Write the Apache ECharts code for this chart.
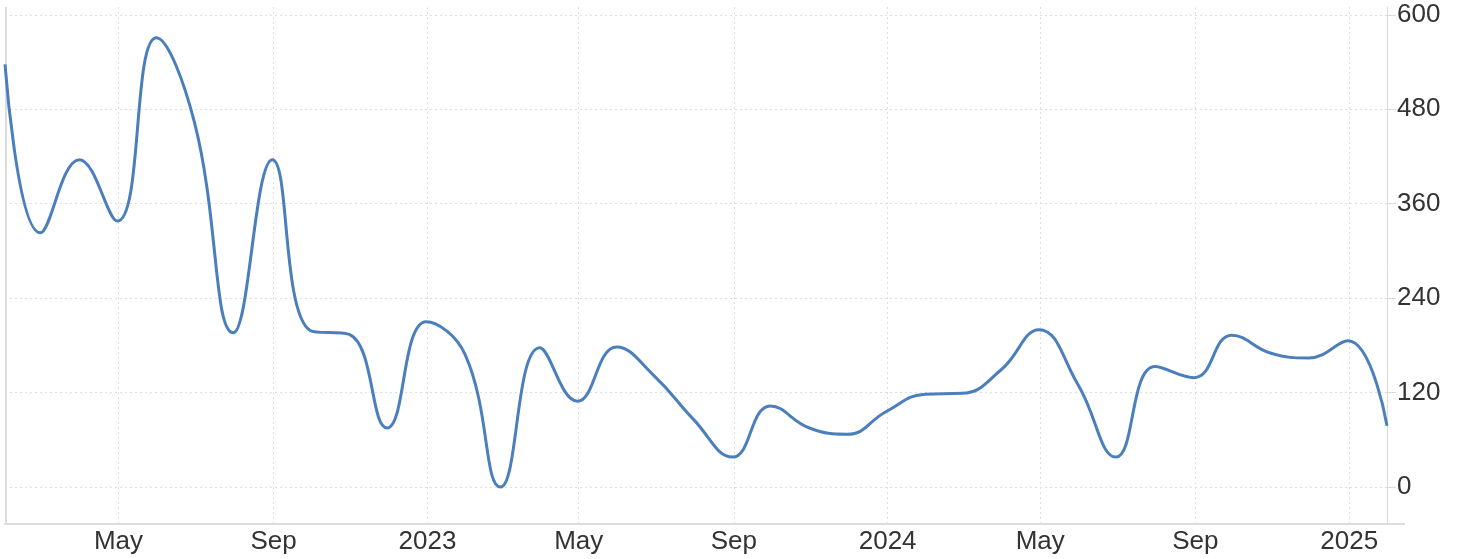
<!DOCTYPE html>
<html>
<head>
<meta charset="utf-8">
<script src="https://cdn.jsdelivr.net/npm/echarts@6/dist/echarts.min.js"></script>
<style>
  html, body { margin: 0; padding: 0; background: #fff; }
  #chart { width: 1461px; height: 559px; }
</style>
</head>
<body>
<div id="chart"></div>
<script>
// month-end observation dates
const dates = [
  '2022-01-31', '2022-02-28', '2022-03-31', '2022-04-30', '2022-05-31', '2022-06-30',
  '2022-07-31', '2022-08-31', '2022-09-30', '2022-10-31', '2022-11-30', '2022-12-31',
  '2023-01-31', '2023-02-28', '2023-03-31', '2023-04-30', '2023-05-31', '2023-06-30',
  '2023-07-31', '2023-08-31', '2023-09-30', '2023-10-31', '2023-11-30', '2023-12-31',
  '2024-01-31', '2024-02-29', '2024-03-31', '2024-04-30', '2024-05-31', '2024-06-30',
  '2024-07-31', '2024-08-31', '2024-09-30', '2024-10-31', '2024-11-30', '2024-12-31',
  '2025-01-31'
]
const values = [
  537, 323, 416, 338, 571, 465, 196, 416, 199, 194, 75, 210,
  168, 0, 177, 109, 178, 141, 86, 38, 103, 75, 67, 96,
  118, 119, 149, 200, 130, 38, 153, 139, 193, 170, 164, 186,
  78
]
const xTickDates = ['2022-05-01', '2022-09-01', '2023-01-01', '2023-05-01', '2023-09-01',
  '2024-01-01', '2024-05-01', '2024-09-01', '2025-01-01']
const xTickLabels = ['May', 'Sep', '2023', 'May', 'Sep', '2024', 'May', 'Sep', '2025']
const yTicks = [0, 120, 240, 360, 480, 600]

// days since 2022-01-01, so the x axis is a plain value axis
const toDay = s => {
  const p = s.split('-').map(Number)
  return Math.round((Date.UTC(p[0], p[1] - 1, p[2]) - Date.UTC(2022, 0, 1)) / 86400000)
}
const xTickDays = xTickDates.map(toDay)
const seriesData = dates.map((d, i) => [toDay(d), values[i]])

const font = 'Liberation Sans, Arial, sans-serif'

const chart = echarts.init(document.getElementById('chart'))
chart.setOption({
  animation: false,
  grid: { left: 5, right: 74, top: 7, bottom: 35, containLabel: false },
  xAxis: {
    type: 'value',
    min: 'dataMin',
    max: 'dataMax',
    axisLine: { show: true, onZero: false, lineStyle: { color: '#dcdcdc', width: 2 } },
    axisTick: { show: false, customValues: xTickDays },
    axisLabel: {
      customValues: xTickDays,
      margin: 5,
      color: '#333',
      fontSize: 26,
      fontFamily: font,
      formatter: v => {
        const i = xTickDays.indexOf(v)
        return i >= 0 ? xTickLabels[i] : ''
      }
    },
    splitLine: {
      show: true,
      lineStyle: { color: '#dedede', type: [2, 3], width: 1 }
    }
  },
  yAxis: {
    type: 'value',
    position: 'right',
    min: -47,
    max: 610,
    axisLine: { show: true, lineStyle: { color: '#dcdcdc', width: 1 } },
    axisTick: { show: true, length: 9, customValues: yTicks, lineStyle: { color: '#dcdcdc' } },
    axisLabel: {
      customValues: yTicks,
      margin: 10,
      color: '#333',
      fontSize: 26,
      fontFamily: font,
      padding: [0, 0, 9, 0]
    },
    splitLine: {
      show: true,
      lineStyle: { color: '#dedede', type: [2, 3], width: 1 }
    }
  },
  series: [{
    type: 'line',
    data: seriesData,
    smooth: 0.45,
    showSymbol: false,
    lineStyle: { color: '#4a7ebc', width: 3 },
    itemStyle: { color: '#4a7ebc' }
  }],
  graphic: [{
    type: 'line',
    shape: { x1: 6, y1: 7, x2: 6, y2: 524 },
    style: { stroke: '#dcdcdc', lineWidth: 2 },
    silent: true
  }, {
    type: 'line',
    shape: { x1: 1386, y1: 524, x2: 1405, y2: 524 },
    style: { stroke: '#dcdcdc', lineWidth: 2 },
    silent: true
  }]
})
</script>
</body>
</html>
